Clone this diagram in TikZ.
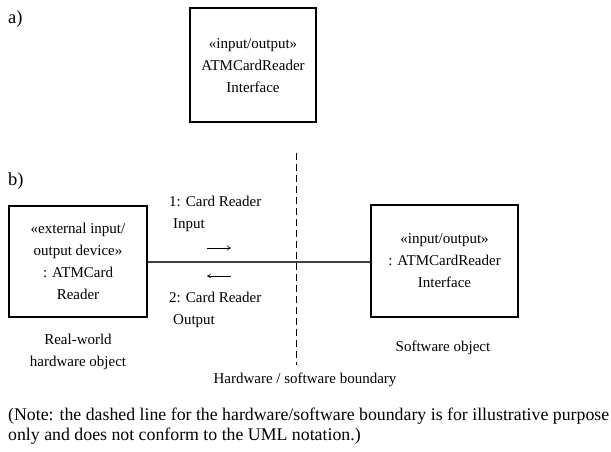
\documentclass[tikz,border=0pt]{standalone}
\usepackage{fontspec}
\setmainfont{Liberation Serif}
\usetikzlibrary{arrows.meta}
\begin{document}
\begin{tikzpicture}[x=1pt,y=-1pt,
  objbox/.style={draw,line width=1.2pt,inner sep=0pt},
  txt/.style={font=\fontsize{15}{22}\selectfont,inner sep=0pt,align=center},
  parttxt/.style={font=\fontsize{18.5}{22}\selectfont,inner sep=0pt},
  notetxt/.style={font=\fontsize{17.8}{20}\selectfont,inner sep=0pt,align=left},
  msgarrow/.style={-{To[length=4pt,width=5pt]},line width=0.6pt}]
\useasboundingbox (0,0) rectangle (611,451);
\node[parttxt,anchor=west] (la) at (8,19) {a)};
\draw[objbox] (190,8) rectangle (316,122);
\node[txt] (a1) at (253,66) {«input/output»\\ATMCardReader\\Interface};
\node[parttxt,anchor=west] (lb) at (8,181) {b)};
\node[objbox,minimum width=138pt,minimum height=111pt] (hw) at (78,261.5) {};
\node[txt] at (hw) {«external input/\\output device»\\: ATMCard\\Reader};
\node[objbox,minimum width=147pt,minimum height=112pt] (sw) at (444.5,261) {};
\node[txt] at (sw) {«input/output»\\: ATMCardReader\\Interface};
\draw[line width=1.2pt,black!75] (hw.east |- 0,262) coordinate (c1) -- (sw.west |- 0,262) coordinate (c2);
\draw[line width=0.8pt,dash pattern=on 7pt off 4pt] (296,153) coordinate (d1) -- (296,365) coordinate (d2);
\node[txt,align=left,anchor=west] (m1) at (169,214) {1: Card Reader\\\hspace*{4pt}Input};
\coordinate (a1s) at (207,248); \coordinate (a1e) at (231,248);
\draw[msgarrow] (a1s) -- (a1e);
\coordinate (a2s) at (231,276); \coordinate (a2e) at (207,276);
\draw[msgarrow] (a2s) -- (a2e);
\node[txt,align=left,anchor=west] (m2) at (169,310) {2: Card Reader\\\hspace*{4pt}Output};
\node[txt] (rw) at (78,352) {Real-world\\hardware object};
\node[txt] (so) at (443,348) {Software object};
\node[txt] (hb) at (305,380) {Hardware / software boundary};
\node[notetxt,anchor=west] (note) at (8,426) {(Note: the dashed line for the hardware/software boundary is for illustrative purpose\\only and does not conform to the UML notation.)};
\end{tikzpicture}
\end{document}
